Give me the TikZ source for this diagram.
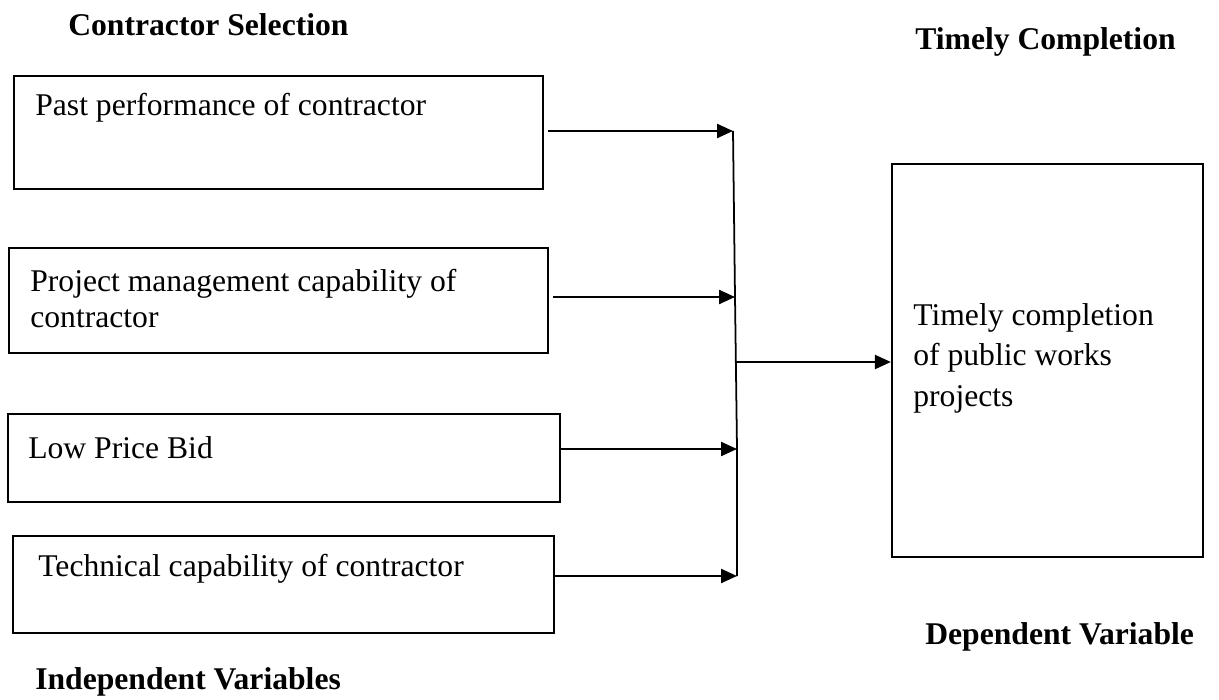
\documentclass[tikz,border=0pt]{standalone}
\usepackage{fontspec}
\setmainfont{Liberation Serif}
\usetikzlibrary{arrows.meta}

\begin{document}
\begin{tikzpicture}[x=0.02cm, y=-0.02cm,
		varbox/.style={draw, line width=1.3pt, inner sep=0pt},
		boxtext/.style={anchor=west, align=left, inner sep=0pt, font=\fontsize{18}{20.5}\selectfont},
		heading/.style={anchor=west, inner sep=0pt, font=\fontsize{18}{20.5}\selectfont\bfseries},
		arr/.style={-{Triangle[length=0.32cm, width=0.28cm]}, line width=1.3pt},
		gap/.style={shorten <=0.08cm}]

				\useasboundingbox (0,0) rectangle (1219,699);

				% headings
				\node [heading] (sel) at (68, 25) {Contractor Selection};
				\node [heading] (tc) at (915, 42) {Timely Completion};
				\node [heading] (dv) at (925, 637) {Dependent Variable};
				\node [heading] (iv) at (35, 682) {Independent Variables};

				% independent variables
				\node [varbox, minimum width=10.58cm, minimum height=2.26cm] (past) at (278.5, 132.5) {};
				\node [boxtext] (pasttext) at (35, 108) {Past performance of contractor};

				\node [varbox, minimum width=10.78cm, minimum height=2.10cm] (pm) at (278.5, 300.5) {};
				\node [boxtext] (pmtext) at (30, 299) {Project management capability of\\contractor};

				\node [varbox, minimum width=11.04cm, minimum height=1.76cm] (low) at (284, 458) {};
				\node [boxtext] (lowtext) at (28, 448) {Low Price Bid};

				\node [varbox, minimum width=10.82cm, minimum height=1.94cm] (tech) at (283.5, 584.5) {};
				\node [boxtext] (techtext) at (38, 569) {Technical capability of contractor};

				% dependent variable
				\node [varbox, minimum width=6.22cm, minimum height=7.86cm] (timely) at (1047.5, 360.5) {};
				\node [boxtext, font=\fontsize{18}{23}\selectfont] (timelytext) at (913, 358) {Timely completion\\of public works\\projects};

				%------
				\coordinate (j1) at (733, 131);
				\coordinate (j2) at (735, 297);
				\coordinate (j3) at (737, 449);
				\coordinate (j4) at (737, 576);
				\coordinate (jm) at (736, 362);

				\draw [arr, gap] (past.east |- j1) -- (j1);
				\draw [arr, gap] (pm.east |- j2) -- (j2);
				\draw [arr] (low.east |- j3) -- (j3);
				\draw [arr] (tech.east |- j4) -- (j4);
				\draw [line width=1pt] (j1) -- (j2) -- (j3) -- (j4);
				\draw [arr] (jm) -- (jm -| timely.west);
		\end{tikzpicture}
\end{document}
